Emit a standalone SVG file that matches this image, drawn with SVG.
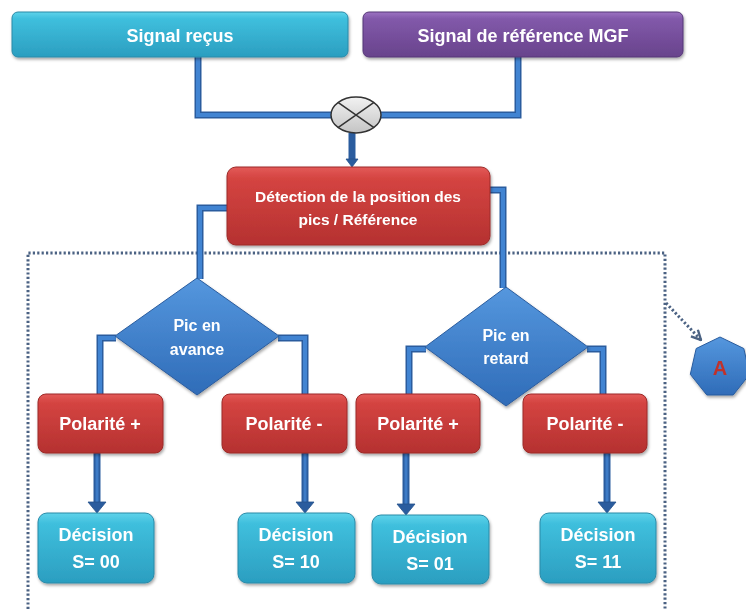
<svg xmlns="http://www.w3.org/2000/svg" width="746" height="609" viewBox="0 0 746 609">
<defs>
<linearGradient id="gCyan" x1="0" y1="0" x2="0" y2="1">
<stop offset="0" stop-color="#5fd3ea"/><stop offset="0.15" stop-color="#3fbfdd"/><stop offset="1" stop-color="#2b9ec0"/>
</linearGradient>
<linearGradient id="gPurple" x1="0" y1="0" x2="0" y2="1">
<stop offset="0" stop-color="#9c72c2"/><stop offset="0.15" stop-color="#8259aa"/><stop offset="1" stop-color="#68438c"/>
</linearGradient>
<linearGradient id="gRed" x1="0" y1="0" x2="0" y2="1">
<stop offset="0" stop-color="#e35a58"/><stop offset="0.15" stop-color="#d44441"/><stop offset="1" stop-color="#b53130"/>
</linearGradient>
<linearGradient id="gBlue" x1="0" y1="0" x2="0" y2="1">
<stop offset="0" stop-color="#5597de"/><stop offset="1" stop-color="#2f6cb8"/>
</linearGradient>
<linearGradient id="gGray" x1="0" y1="0" x2="0" y2="1">
<stop offset="0" stop-color="#f2f2f2"/><stop offset="1" stop-color="#c4c4c4"/>
</linearGradient>
<filter id="sh" x="-10%" y="-10%" width="130%" height="140%">
<feDropShadow dx="1" dy="2" stdDeviation="1.5" flood-color="#000" flood-opacity="0.35"/>
</filter>
<marker id="ahOpen" viewBox="0 0 10 10" refX="9" refY="5" markerWidth="12" markerHeight="12" orient="auto" markerUnits="userSpaceOnUse">
<path d="M1,1 L9,5 L1,9" fill="none" stroke="#4b6283" stroke-width="2"/>
</marker>
</defs>
<style>
.lbl{font-family:"Liberation Sans",Arial,sans-serif;font-weight:bold;fill:#ffffff;text-anchor:middle}
.outer{fill:none;stroke:#2a5c9e;stroke-width:7;stroke-linejoin:miter}
.inner{fill:none;stroke:#4184d2;stroke-width:4;stroke-linejoin:miter}
.arr{fill:none;stroke:#2a5c9e;stroke-width:7}
.arrIn{fill:none;stroke:#3d7bc6;stroke-width:3}
.head{fill:#2a5c9e;stroke:#24508a;stroke-width:0.8;stroke-linejoin:round}
.dot{fill:none;stroke:#4b6283;stroke-width:3;stroke-dasharray:2.2 2.2}
.cyan{fill:url(#gCyan);stroke:#2a8aa8;stroke-width:1}
.red{fill:url(#gRed);stroke:#9c2a28;stroke-width:1}
.blue{fill:url(#gBlue);stroke:#2a5c9e;stroke-width:1}
</style>

<g id="frame">
<path class="dot" d="M28,609 L28,253 L665,253 L665,609"/>
<path class="dot" d="M666,303 L701,340" marker-end="url(#ahOpen)"/>
</g>

<g id="connectors">
<path class="outer" d="M198,57 L198,115 L331,115 M381,115 L518,115 L518,57"/>
<path class="inner" d="M198,57 L198,115 L331,115 M381,115 L518,115 L518,57"/>
<path class="outer" d="M228,208 L200,208 L200,279"/>
<path class="inner" d="M228,208 L200,208 L200,279"/>
<path class="outer" d="M489,190 L503,190 L503,288"/>
<path class="inner" d="M489,190 L503,190 L503,288"/>
<path class="outer" d="M116,338 L100,338 L100,394 M278,338 L305,338 L305,394"/>
<path class="inner" d="M116,338 L100,338 L100,394 M278,338 L305,338 L305,394"/>
<path class="outer" d="M426,349 L409,349 L409,394 M587,349 L603,349 L603,394"/>
<path class="inner" d="M426,349 L409,349 L409,394 M587,349 L603,349 L603,394"/>
<path class="arr" d="M352,133 L352,160" stroke-width="5"/>
<polygon class="head" points="346,159 358,159 352,167"/>
<path class="arr" d="M97,453 L97,503"/><path class="arrIn" d="M97,454 L97,502"/>
<polygon class="head" points="88,502 106,502 97,513"/>
<path class="arr" d="M305,453 L305,503"/><path class="arrIn" d="M305,454 L305,502"/>
<polygon class="head" points="296,502 314,502 305,513"/>
<path class="arr" d="M406,453 L406,505"/><path class="arrIn" d="M406,454 L406,504"/>
<polygon class="head" points="397,504 415,504 406,515"/>
<path class="arr" d="M607,453 L607,503"/><path class="arrIn" d="M607,454 L607,502"/>
<polygon class="head" points="598,502 616,502 607,513"/>
</g>

<g id="mixer">
<ellipse cx="356" cy="115" rx="25" ry="18" fill="url(#gGray)" stroke="#333" stroke-width="1.5"/>
<path d="M338,102.3 L374,127.7 M374,102.3 L338,127.7" stroke="#333" stroke-width="1.5"/>
</g>

<g id="signal-recus" filter="url(#sh)">
<rect class="cyan" x="12" y="12" width="336" height="45" rx="6"/>
<text class="lbl" x="180" y="42" font-size="18">Signal reçus</text>
</g>
<g id="signal-ref" filter="url(#sh)">
<rect x="363" y="12" width="320" height="45" rx="6" fill="url(#gPurple)" stroke="#553677" stroke-width="1"/>
<text class="lbl" x="523" y="42" font-size="18">Signal de référence MGF</text>
</g>

<g id="detection" filter="url(#sh)">
<rect class="red" x="227" y="167" width="263" height="78" rx="9"/>
<text class="lbl" x="358" y="202" font-size="15.5">Détection de la position des</text>
<text class="lbl" x="358" y="225" font-size="15.5">pics / Référence</text>
</g>

<g id="pic-avance" filter="url(#sh)">
<polygon class="blue" points="197,278 279,336 197,395 115,336"/>
<text class="lbl" x="197" y="331" font-size="16">Pic en</text>
<text class="lbl" x="197" y="355" font-size="16">avance</text>
</g>
<g id="pic-retard" filter="url(#sh)">
<polygon class="blue" points="506,287 588,347 506,406 425,347"/>
<text class="lbl" x="506" y="341" font-size="16">Pic en</text>
<text class="lbl" x="506" y="364" font-size="16">retard</text>
</g>

<g id="pol1" filter="url(#sh)">
<rect class="red" x="38" y="394" width="125" height="59" rx="8"/>
<text class="lbl" x="100" y="430" font-size="18">Polarité +</text>
</g>
<g id="pol2" filter="url(#sh)">
<rect class="red" x="222" y="394" width="125" height="59" rx="8"/>
<text class="lbl" x="284" y="430" font-size="18">Polarité -</text>
</g>
<g id="pol3" filter="url(#sh)">
<rect class="red" x="356" y="394" width="124" height="59" rx="8"/>
<text class="lbl" x="418" y="430" font-size="18">Polarité +</text>
</g>
<g id="pol4" filter="url(#sh)">
<rect class="red" x="523" y="394" width="124" height="59" rx="8"/>
<text class="lbl" x="585" y="430" font-size="18">Polarité -</text>
</g>

<g id="dec00" filter="url(#sh)">
<rect class="cyan" x="38" y="513" width="116" height="70" rx="9"/>
<text class="lbl" x="96" y="541" font-size="18">Décision</text>
<text class="lbl" x="96" y="568" font-size="18">S= 00</text>
</g>
<g id="dec10" filter="url(#sh)">
<rect class="cyan" x="238" y="513" width="117" height="70" rx="9"/>
<text class="lbl" x="296" y="541" font-size="18">Décision</text>
<text class="lbl" x="296" y="568" font-size="18">S= 10</text>
</g>
<g id="dec01" filter="url(#sh)">
<rect class="cyan" x="372" y="515" width="117" height="69" rx="9"/>
<text class="lbl" x="430" y="543" font-size="18">Décision</text>
<text class="lbl" x="430" y="570" font-size="18">S= 01</text>
</g>
<g id="dec11" filter="url(#sh)">
<rect class="cyan" x="540" y="513" width="116" height="70" rx="9"/>
<text class="lbl" x="598" y="541" font-size="18">Décision</text>
<text class="lbl" x="598" y="568" font-size="18">S= 11</text>
</g>

<g id="connector-A" filter="url(#sh)">
<polygon class="blue" points="720,337 743.8,348.5 749.7,374.3 733.2,395 706.8,395 690.3,374.3 696.2,348.5"/>
<text x="720" y="375" font-family="Liberation Sans,Arial,sans-serif" font-weight="bold" font-size="20" fill="#c0302c" text-anchor="middle">A</text>
</g>
</svg>
